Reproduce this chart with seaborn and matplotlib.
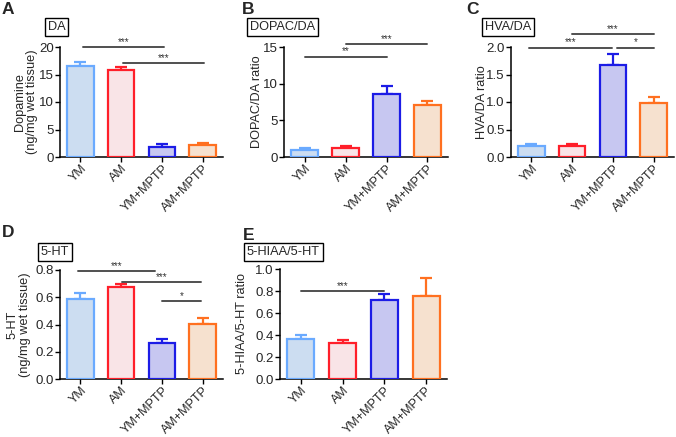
import pandas as pd
import seaborn as sns
import matplotlib.pyplot as plt

sns.set_style("ticks")
plt.rcParams["font.family"] = ["Liberation Sans", "DejaVu Sans"]

GROUPS = ["YM", "AM", "YM+MPTP", "AM+MPTP"]
FILLS = ["#c6dcf7", "#fde0e4", "#c0c0f8", "#fde0c8"]
EDGES = ["#6aaaff", "#ff1f2a", "#1c1ce6", "#ff7020"]

# mean values and upper error (SEM) for each panel
DA_MEAN = [16.5, 15.9, 1.9, 2.2]
DA_ERR = [0.7, 0.4, 0.45, 0.3]
DOPAC_MEAN = [0.95, 1.27, 8.6, 7.1]
DOPAC_ERR = [0.25, 0.28, 1.1, 0.6]
HVA_MEAN = [0.205, 0.205, 1.67, 0.99]
HVA_ERR = [0.03, 0.03, 0.2, 0.095]
HT_MEAN = [0.585, 0.677, 0.266, 0.404]
HT_ERR = [0.048, 0.018, 0.028, 0.046]
HIAA_MEAN = [0.364, 0.33, 0.718, 0.757]
HIAA_ERR = [0.036, 0.025, 0.052, 0.163]

# significance bars: (x start, x end, y, stars)
DA_SIG = [(0.07, 2.06, 20.0, "***"), (1.04, 3.03, 17.1, "***")]
DOPAC_SIG = [(0.0, 2.0, 13.7, "**"), (1.0, 3.0, 15.4, "***")]
HVA_SIG = [(1.0, 3.0, 2.23, "***"), (-0.05, 1.97, 1.99, "***"), (2.1, 3.0, 1.99, "*")]
HT_SIG = [(-0.05, 1.83, 0.79, "***"), (1.02, 2.96, 0.714, "***"), (2.0, 2.96, 0.575, "*")]
HIAA_SIG = [(0.0, 2.0, 0.8, "***")]

W, H = 676, 437


def panel(fig, rect, mean, err, ylim, yticks, ylabel, title, sig, letter, boxpos, letterpos, ylab_x):
    left, top, right, bottom = rect
    ax = fig.add_axes([left / W, 1 - bottom / H, (right - left) / W, (bottom - top) / H])
    df = pd.DataFrame({"group": GROUPS, "value": mean})
    sns.barplot(data=df, x="group", y="value", hue="group", palette=FILLS,
                legend=False, width=0.65, linewidth=1.6, ax=ax, zorder=3)
    for patch, ec in zip(ax.patches, EDGES):
        patch.set_edgecolor(ec)
    for i, (m, e) in enumerate(zip(mean, err)):
        ax.errorbar(i, m, yerr=[[0], [e]], color=EDGES[i], capsize=4.5,
                    elinewidth=1.6, capthick=1.6, zorder=2)
    ax.set_xlim(-0.5, 3.5)
    ax.set_ylim(*ylim)
    ax.set_yticks(yticks)
    if isinstance(yticks[1], float):
        ax.set_yticklabels([f"{t:.1f}" for t in yticks])
    ax.set_xlabel("")
    ax.set_ylabel("")
    ax.tick_params(axis="both", length=3.5, width=1, direction="out", color="black")
    ax.tick_params(axis="y", pad=1, labelsize=9.5)
    ax.tick_params(axis="x", pad=0.5, labelsize=9)
    ax.set_xticks(range(4))
    ax.set_xticklabels(GROUPS, rotation=45, ha="right", rotation_mode="anchor")
    sns.despine(ax=ax)
    for s in ("left", "bottom"):
        ax.spines[s].set_linewidth(1.1)
        ax.spines[s].set_color("black")

    for x0, x1, y, stars in sig:
        ax.plot([x0, x1], [y, y], color="#505050", lw=1.4, clip_on=False, zorder=4)
        ax.text((x0 + x1) / 2, y, stars, ha="center", va="bottom", fontsize=7,
                color="#333333", clip_on=False)

    fig.text(ylab_x / W, 1 - (top + bottom) / 2 / H, ylabel, rotation=90, ha="center",
             va="center", fontsize=9.2, linespacing=1.05)
    fig.text(boxpos[0] / W, 1 - boxpos[1] / H, title, fontsize=9.2, ha="left", va="center",
             bbox=dict(boxstyle="square,pad=0.2", fc="white", ec="black", lw=1.0))
    fig.text(letterpos[0] / W, 1 - letterpos[1] / H, letter, fontsize=12.5,
             fontweight="bold", ha="left", va="center")
    return ax


def main():
    fig = plt.figure(figsize=(W / 100, H / 100), dpi=100)

    panel(fig, (60, 47, 223, 157), DA_MEAN, DA_ERR, (0, 20), [0, 5, 10, 15, 20],
          "Dopamine\n(ng/mg wet tissue)", "DA", DA_SIG, "A", (48, 27), (2, 9), 26)
    panel(fig, (284, 47, 448, 157), DOPAC_MEAN, DOPAC_ERR, (0, 15), [0, 5, 10, 15],
          "DOPAC/DA ratio", "DOPAC/DA", DOPAC_SIG, "B", (250, 27), (242, 10), 257)
    panel(fig, (511, 47, 674, 157), HVA_MEAN, HVA_ERR, (0, 2.0), [0.0, 0.5, 1.0, 1.5, 2.0],
          "HVA/DA ratio", "HVA/DA", HVA_SIG, "C", (485, 27), (466, 10), 482)
    panel(fig, (60, 270, 223, 379), HT_MEAN, HT_ERR, (0, 0.8), [0.0, 0.2, 0.4, 0.6, 0.8],
          "5-HT\n(ng/mg wet tissue)", "5-HT", HT_SIG, "D", (41, 252), (2, 233), 19)
    panel(fig, (280, 269, 447, 379), HIAA_MEAN, HIAA_ERR, (0, 1.0), [0.0, 0.2, 0.4, 0.6, 0.8, 1.0],
          "5-HIAA/5-HT ratio", "5-HIAA/5-HT", HIAA_SIG, "E", (247, 252), (243, 235), 242)

    fig.savefig("out.png", dpi=100)


if __name__ == "__main__":
    main()
